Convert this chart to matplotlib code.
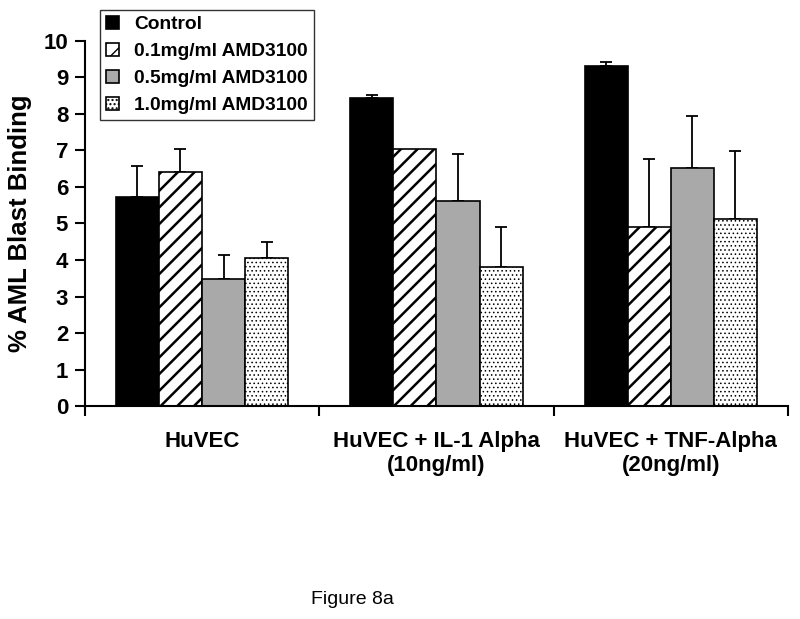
import numpy as np
import matplotlib
matplotlib.use("Agg")
import matplotlib.pyplot as plt

plt.rcParams['font.family'] = ['Liberation Sans', 'DejaVu Sans']
plt.rcParams['hatch.color'] = 'black'

# 数据
groups = ['HuVEC', 'HuVEC + IL-1 Alpha\n(10ng/ml)', 'HuVEC + TNF-Alpha\n(20ng/ml)']
series = ['Control', '0.1mg/ml AMD3100', '0.5mg/ml AMD3100', '1.0mg/ml AMD3100']
control = [5.73, 8.44, 9.30]
control_err = [0.85, 0.07, 0.11]
amd01 = [6.42, 7.04, 4.91]
amd01_err = [0.62, 0.0, 1.85]
amd05 = [3.47, 5.62, 6.53]
amd05_err = [0.67, 1.29, 1.42]
amd10 = [4.05, 3.82, 5.12]
amd10_err = [0.43, 1.08, 1.87]

values = [control, amd01, amd05, amd10]
errors = [control_err, amd01_err, amd05_err, amd10_err]
faces = ['black', 'white', '#a9a9a9', 'white']
hatches = ['', '//', '', '....']
hatch_lw = [1.8, 1.8, 1.8, 0.6]

fig = plt.figure(figsize=(8, 6.19), dpi=100)
ax = fig.add_axes([0.106, 0.344, 0.879, 0.59])

x = np.arange(len(groups)) + 0.5
w = 0.184
for i in range(4):
    xi = x + (i - 1.5) * w
    with plt.rc_context({'hatch.linewidth': hatch_lw[i]}):
        ax.bar(xi, values[i], w, color=faces[i], edgecolor='black', linewidth=1.2,
               hatch=hatches[i], label=series[i], zorder=2)
    err = np.array(errors[i])
    m = err > 0
    ax.errorbar(xi[m], np.array(values[i])[m], yerr=[np.zeros(m.sum()), err[m]],
                fmt='none', ecolor='black', elinewidth=1.3, capsize=4.5, capthick=1.3, zorder=1)

ax.set_xlim(0, 3)
ax.set_ylim(0, 10)
ax.set_yticks(range(0, 11))
ax.set_xticks(x)
ax.set_xticklabels(groups, fontsize=16, fontweight='bold')
ax.set_xticks([0, 1, 2, 3], minor=True)
ax.tick_params(axis='x', which='major', length=0, pad=18)
ax.tick_params(axis='x', which='minor', length=7, width=1.5, direction='out')
ax.tick_params(axis='y', length=7, width=1.5, direction='out', labelsize=16, pad=5)
for t in ax.get_yticklabels():
    t.set_fontweight('bold')
ax.set_ylabel('% AML Blast Binding', fontsize=18.5, fontweight='bold', labelpad=8)

for s in ['top', 'right']:
    ax.spines[s].set_visible(False)
for s in ['left', 'bottom']:
    ax.spines[s].set_linewidth(1.5)

leg = fig.legend(loc='upper left', bbox_to_anchor=(0.125, 0.984), frameon=True, fancybox=False,
                 edgecolor='black', prop={'size': 13.8, 'weight': 'bold'},
                 handlelength=0.7, handleheight=0.7, handletextpad=0.8,
                 labelspacing=0.5, borderpad=0.3, borderaxespad=0)
leg.get_frame().set_linewidth(1.0)

fig.text(0.441, 0.031, 'Figure 8a', fontsize=14, ha='center', va='center')

plt.savefig('out.png', dpi=100)
